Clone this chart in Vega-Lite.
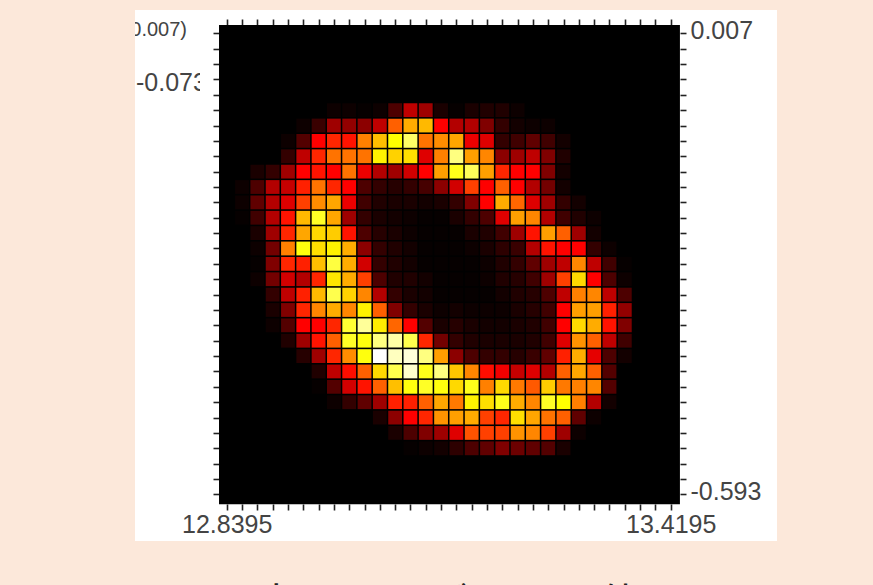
{"$schema":"https://vega.github.io/schema/vega-lite/v6.json","width":642,"height":531,"autosize":{"type":"none"},"padding":{"left":135,"top":10,"right":96,"bottom":44},"background":"#fce8da","view":{"fill":"#ffffff","stroke":null},"title":{"text":"高エネルギーの天体","orient":"bottom","anchor":"middle","offset":45,"dx":-7.5,"font":"Noto Sans CJK JP","fontSize":43,"fontWeight":"normal","color":"#222222"},"config":{"font":"Liberation Sans"},"datasets":{"cells":[
{"i":1,"j":10,"v":2},{"i":1,"j":11,"v":2},{"i":1,"j":12,"v":1},
{"i":2,"j":9,"v":4},{"i":2,"j":10,"v":12},{"i":2,"j":11,"v":15},{"i":2,"j":12,"v":10},{"i":2,"j":13,"v":4},{"i":2,"j":14,"v":2},{"i":2,"j":15,"v":1},{"i":2,"j":16,"v":2},
{"i":3,"j":9,"v":8},{"i":3,"j":10,"v":28},{"i":3,"j":11,"v":28},{"i":3,"j":12,"v":28},{"i":3,"j":13,"v":25},{"i":3,"j":14,"v":18},{"i":3,"j":15,"v":20},{"i":3,"j":16,"v":18},{"i":3,"j":17,"v":8},{"i":3,"j":18,"v":4},{"i":3,"j":19,"v":2},
{"i":4,"j":7,"v":2},{"i":4,"j":8,"v":8},{"i":4,"j":9,"v":25},{"i":4,"j":10,"v":31},{"i":4,"j":11,"v":35},{"i":4,"j":12,"v":43},{"i":4,"j":13,"v":46},{"i":4,"j":14,"v":60},{"i":4,"j":15,"v":46},{"i":4,"j":16,"v":33},{"i":4,"j":17,"v":30},{"i":4,"j":18,"v":20},{"i":4,"j":19,"v":13},{"i":4,"j":20,"v":5},
{"i":5,"j":6,"v":2},{"i":5,"j":7,"v":13},{"i":5,"j":8,"v":30},{"i":5,"j":9,"v":40},{"i":5,"j":10,"v":45},{"i":5,"j":11,"v":50},{"i":5,"j":12,"v":69},{"i":5,"j":13,"v":66},{"i":5,"j":14,"v":81},{"i":5,"j":15,"v":45},{"i":5,"j":16,"v":28},{"i":5,"j":17,"v":45},{"i":5,"j":18,"v":46},{"i":5,"j":19,"v":40},{"i":5,"j":20,"v":25},{"i":5,"j":21,"v":6},
{"i":6,"j":6,"v":9},{"i":6,"j":7,"v":40},{"i":6,"j":8,"v":46},{"i":6,"j":9,"v":43},{"i":6,"j":10,"v":58},{"i":6,"j":11,"v":62},{"i":6,"j":12,"v":83},{"i":6,"j":13,"v":74},{"i":6,"j":14,"v":75},{"i":6,"j":15,"v":70},{"i":6,"j":16,"v":46},{"i":6,"j":17,"v":69},{"i":6,"j":18,"v":61},{"i":6,"j":19,"v":40},{"i":6,"j":20,"v":43},{"i":6,"j":21,"v":25},{"i":6,"j":22,"v":5},{"i":6,"j":23,"v":1},
{"i":7,"j":5,"v":2},{"i":7,"j":6,"v":25},{"i":7,"j":7,"v":46},{"i":7,"j":8,"v":58},{"i":7,"j":9,"v":40},{"i":7,"j":10,"v":46},{"i":7,"j":11,"v":66},{"i":7,"j":12,"v":66},{"i":7,"j":13,"v":72},{"i":7,"j":14,"v":78},{"i":7,"j":15,"v":85},{"i":7,"j":16,"v":76},{"i":7,"j":17,"v":86},{"i":7,"j":18,"v":67},{"i":7,"j":19,"v":46},{"i":7,"j":20,"v":55},{"i":7,"j":21,"v":46},{"i":7,"j":22,"v":30},{"i":7,"j":23,"v":13},{"i":7,"j":24,"v":2},
{"i":8,"j":5,"v":2},{"i":8,"j":6,"v":23},{"i":8,"j":7,"v":43},{"i":8,"j":8,"v":58},{"i":8,"j":9,"v":58},{"i":8,"j":10,"v":40},{"i":8,"j":11,"v":37},{"i":8,"j":12,"v":25},{"i":8,"j":13,"v":43},{"i":8,"j":14,"v":67},{"i":8,"j":15,"v":67},{"i":8,"j":16,"v":67},{"i":8,"j":17,"v":73},{"i":8,"j":18,"v":61},{"i":8,"j":19,"v":84},{"i":8,"j":20,"v":83},{"i":8,"j":21,"v":62},{"i":8,"j":22,"v":42},{"i":8,"j":23,"v":33},{"i":8,"j":24,"v":8},
{"i":9,"j":5,"v":1},{"i":9,"j":6,"v":22},{"i":9,"j":7,"v":60},{"i":9,"j":8,"v":58},{"i":9,"j":9,"v":37},{"i":9,"j":10,"v":12},{"i":9,"j":11,"v":10},{"i":9,"j":12,"v":8},{"i":9,"j":13,"v":12},{"i":9,"j":14,"v":22},{"i":9,"j":15,"v":33},{"i":9,"j":16,"v":50},{"i":9,"j":17,"v":61},{"i":9,"j":18,"v":78},{"i":9,"j":19,"v":92},{"i":9,"j":20,"v":81},{"i":9,"j":21,"v":81},{"i":9,"j":22,"v":55},{"i":9,"j":23,"v":43},{"i":9,"j":24,"v":15},
{"i":10,"j":5,"v":2},{"i":10,"j":6,"v":30},{"i":10,"j":7,"v":70},{"i":10,"j":8,"v":78},{"i":10,"j":9,"v":28},{"i":10,"j":10,"v":8},{"i":10,"j":11,"v":5},{"i":10,"j":12,"v":4},{"i":10,"j":13,"v":6},{"i":10,"j":14,"v":8},{"i":10,"j":15,"v":8},{"i":10,"j":16,"v":12},{"i":10,"j":17,"v":28},{"i":10,"j":18,"v":55},{"i":10,"j":19,"v":77},{"i":10,"j":20,"v":90},{"i":10,"j":21,"v":100},{"i":10,"j":22,"v":74},{"i":10,"j":23,"v":55},{"i":10,"j":24,"v":25},{"i":10,"j":25,"v":4},
{"i":11,"j":5,"v":12},{"i":11,"j":6,"v":55},{"i":11,"j":7,"v":80},{"i":11,"j":8,"v":73},{"i":11,"j":9,"v":25},{"i":11,"j":10,"v":6},{"i":11,"j":11,"v":4},{"i":11,"j":12,"v":3},{"i":11,"j":13,"v":4},{"i":11,"j":14,"v":5},{"i":11,"j":15,"v":5},{"i":11,"j":16,"v":5},{"i":11,"j":17,"v":8},{"i":11,"j":18,"v":20},{"i":11,"j":19,"v":56},{"i":11,"j":20,"v":93},{"i":11,"j":21,"v":95},{"i":11,"j":22,"v":86},{"i":11,"j":23,"v":70},{"i":11,"j":24,"v":45},{"i":11,"j":25,"v":22},{"i":11,"j":26,"v":4},
{"i":12,"j":5,"v":30},{"i":12,"j":6,"v":67},{"i":12,"j":7,"v":88},{"i":12,"j":8,"v":75},{"i":12,"j":9,"v":33},{"i":12,"j":10,"v":8},{"i":12,"j":11,"v":4},{"i":12,"j":12,"v":2},{"i":12,"j":13,"v":2},{"i":12,"j":14,"v":3},{"i":12,"j":15,"v":3},{"i":12,"j":16,"v":5},{"i":12,"j":17,"v":4},{"i":12,"j":18,"v":8},{"i":12,"j":19,"v":40},{"i":12,"j":20,"v":86},{"i":12,"j":21,"v":97},{"i":12,"j":22,"v":96},{"i":12,"j":23,"v":81},{"i":12,"j":24,"v":45},{"i":12,"j":25,"v":40},{"i":12,"j":26,"v":12},{"i":12,"j":27,"v":1},
{"i":13,"j":5,"v":25},{"i":13,"j":6,"v":69},{"i":13,"j":7,"v":58},{"i":13,"j":8,"v":35},{"i":13,"j":9,"v":40},{"i":13,"j":10,"v":11},{"i":13,"j":11,"v":3},{"i":13,"j":12,"v":1},{"i":13,"j":13,"v":1},{"i":13,"j":14,"v":1},{"i":13,"j":15,"v":1},{"i":13,"j":16,"v":3},{"i":13,"j":17,"v":3},{"i":13,"j":18,"v":4},{"i":13,"j":19,"v":13},{"i":13,"j":20,"v":46},{"i":13,"j":21,"v":90},{"i":13,"j":22,"v":82},{"i":13,"j":23,"v":83},{"i":13,"j":24,"v":55},{"i":13,"j":25,"v":46},{"i":13,"j":26,"v":20},{"i":13,"j":27,"v":2},
{"i":14,"j":5,"v":4},{"i":14,"j":6,"v":40},{"i":14,"j":7,"v":62},{"i":14,"j":8,"v":60},{"i":14,"j":9,"v":65},{"i":14,"j":10,"v":22},{"i":14,"j":11,"v":4},{"i":14,"j":12,"v":1},{"i":14,"j":13,"v":1},{"i":14,"j":14,"v":1},{"i":14,"j":15,"v":1},{"i":14,"j":16,"v":1},{"i":14,"j":17,"v":1},{"i":14,"j":18,"v":2},{"i":14,"j":19,"v":4},{"i":14,"j":20,"v":18},{"i":14,"j":21,"v":65},{"i":14,"j":22,"v":90},{"i":14,"j":23,"v":81},{"i":14,"j":24,"v":66},{"i":14,"j":25,"v":63},{"i":14,"j":26,"v":25},{"i":14,"j":27,"v":3},
{"i":15,"j":5,"v":1},{"i":15,"j":6,"v":28},{"i":15,"j":7,"v":66},{"i":15,"j":8,"v":90},{"i":15,"j":9,"v":82},{"i":15,"j":10,"v":33},{"i":15,"j":11,"v":8},{"i":15,"j":12,"v":4},{"i":15,"j":13,"v":1},{"i":15,"j":14,"v":1},{"i":15,"j":15,"v":1},{"i":15,"j":16,"v":1},{"i":15,"j":17,"v":1},{"i":15,"j":18,"v":3},{"i":15,"j":19,"v":6},{"i":15,"j":20,"v":8},{"i":15,"j":21,"v":22},{"i":15,"j":22,"v":71},{"i":15,"j":23,"v":74},{"i":15,"j":24,"v":59},{"i":15,"j":25,"v":65},{"i":15,"j":26,"v":35},{"i":15,"j":27,"v":7},
{"i":16,"j":5,"v":4},{"i":16,"j":6,"v":28},{"i":16,"j":7,"v":37},{"i":16,"j":8,"v":65},{"i":16,"j":9,"v":87},{"i":16,"j":10,"v":50},{"i":16,"j":11,"v":20},{"i":16,"j":12,"v":8},{"i":16,"j":13,"v":4},{"i":16,"j":14,"v":2},{"i":16,"j":15,"v":1},{"i":16,"j":16,"v":1},{"i":16,"j":17,"v":1},{"i":16,"j":18,"v":2},{"i":16,"j":19,"v":4},{"i":16,"j":20,"v":5},{"i":16,"j":21,"v":12},{"i":16,"j":22,"v":61},{"i":16,"j":23,"v":82},{"i":16,"j":24,"v":78},{"i":16,"j":25,"v":67},{"i":16,"j":26,"v":53},{"i":16,"j":27,"v":12},
{"i":17,"j":5,"v":5},{"i":17,"j":6,"v":20},{"i":17,"j":7,"v":35},{"i":17,"j":8,"v":61},{"i":17,"j":9,"v":65},{"i":17,"j":10,"v":40},{"i":17,"j":11,"v":40},{"i":17,"j":12,"v":12},{"i":17,"j":13,"v":5},{"i":17,"j":14,"v":4},{"i":17,"j":15,"v":2},{"i":17,"j":16,"v":2},{"i":17,"j":17,"v":1},{"i":17,"j":18,"v":2},{"i":17,"j":19,"v":3},{"i":17,"j":20,"v":4},{"i":17,"j":21,"v":8},{"i":17,"j":22,"v":42},{"i":17,"j":23,"v":60},{"i":17,"j":24,"v":75},{"i":17,"j":25,"v":50},{"i":17,"j":26,"v":50},{"i":17,"j":27,"v":15},
{"i":18,"j":5,"v":5},{"i":18,"j":6,"v":8},{"i":18,"j":7,"v":8},{"i":18,"j":8,"v":22},{"i":18,"j":9,"v":46},{"i":18,"j":10,"v":55},{"i":18,"j":11,"v":67},{"i":18,"j":12,"v":35},{"i":18,"j":13,"v":10},{"i":18,"j":14,"v":7},{"i":18,"j":15,"v":5},{"i":18,"j":16,"v":5},{"i":18,"j":17,"v":3},{"i":18,"j":18,"v":2},{"i":18,"j":19,"v":3},{"i":18,"j":20,"v":4},{"i":18,"j":21,"v":8},{"i":18,"j":22,"v":38},{"i":18,"j":23,"v":74},{"i":18,"j":24,"v":82},{"i":18,"j":25,"v":46},{"i":18,"j":26,"v":50},{"i":18,"j":27,"v":20},
{"i":19,"j":5,"v":2},{"i":19,"j":6,"v":3},{"i":19,"j":7,"v":10},{"i":19,"j":8,"v":25},{"i":19,"j":9,"v":40},{"i":19,"j":10,"v":40},{"i":19,"j":11,"v":56},{"i":19,"j":12,"v":65},{"i":19,"j":13,"v":25},{"i":19,"j":14,"v":9},{"i":19,"j":15,"v":8},{"i":19,"j":16,"v":6},{"i":19,"j":17,"v":5},{"i":19,"j":18,"v":4},{"i":19,"j":19,"v":4},{"i":19,"j":20,"v":4},{"i":19,"j":21,"v":6},{"i":19,"j":22,"v":31},{"i":19,"j":23,"v":59},{"i":19,"j":24,"v":67},{"i":19,"j":25,"v":75},{"i":19,"j":26,"v":63},{"i":19,"j":27,"v":17},
{"i":20,"j":6,"v":2},{"i":20,"j":7,"v":15},{"i":20,"j":8,"v":30},{"i":20,"j":9,"v":40},{"i":20,"j":10,"v":28},{"i":20,"j":11,"v":35},{"i":20,"j":12,"v":61},{"i":20,"j":13,"v":43},{"i":20,"j":14,"v":28},{"i":20,"j":15,"v":15},{"i":20,"j":16,"v":10},{"i":20,"j":17,"v":6},{"i":20,"j":18,"v":6},{"i":20,"j":19,"v":5},{"i":20,"j":20,"v":5},{"i":20,"j":21,"v":9},{"i":20,"j":22,"v":35},{"i":20,"j":23,"v":54},{"i":20,"j":24,"v":61},{"i":20,"j":25,"v":66},{"i":20,"j":26,"v":61},{"i":20,"j":27,"v":15},
{"i":21,"j":6,"v":2},{"i":21,"j":7,"v":10},{"i":21,"j":8,"v":20},{"i":21,"j":9,"v":20},{"i":21,"j":10,"v":18},{"i":21,"j":11,"v":25},{"i":21,"j":12,"v":28},{"i":21,"j":13,"v":65},{"i":21,"j":14,"v":43},{"i":21,"j":15,"v":25},{"i":21,"j":16,"v":25},{"i":21,"j":17,"v":12},{"i":21,"j":18,"v":10},{"i":21,"j":19,"v":10},{"i":21,"j":20,"v":10},{"i":21,"j":21,"v":15},{"i":21,"j":22,"v":28},{"i":21,"j":23,"v":72},{"i":21,"j":24,"v":83},{"i":21,"j":25,"v":58},{"i":21,"j":26,"v":50},{"i":21,"j":27,"v":13},
{"i":22,"j":7,"v":3},{"i":22,"j":8,"v":5},{"i":22,"j":9,"v":3},{"i":22,"j":10,"v":3},{"i":22,"j":11,"v":8},{"i":22,"j":12,"v":10},{"i":22,"j":13,"v":55},{"i":22,"j":14,"v":40},{"i":22,"j":15,"v":30},{"i":22,"j":16,"v":50},{"i":22,"j":17,"v":30},{"i":22,"j":18,"v":40},{"i":22,"j":19,"v":40},{"i":22,"j":20,"v":35},{"i":22,"j":21,"v":45},{"i":22,"j":22,"v":55},{"i":22,"j":23,"v":59},{"i":22,"j":24,"v":80},{"i":22,"j":25,"v":55},{"i":22,"j":26,"v":25},{"i":22,"j":27,"v":4},
{"i":23,"j":11,"v":3},{"i":23,"j":12,"v":5},{"i":23,"j":13,"v":25},{"i":23,"j":14,"v":40},{"i":23,"j":15,"v":61},{"i":23,"j":16,"v":74},{"i":23,"j":17,"v":60},{"i":23,"j":18,"v":65},{"i":23,"j":19,"v":74},{"i":23,"j":20,"v":63},{"i":23,"j":21,"v":67},{"i":23,"j":22,"v":66},{"i":23,"j":23,"v":60},{"i":23,"j":24,"v":60},{"i":23,"j":25,"v":15},{"i":23,"j":26,"v":2},
{"i":24,"j":12,"v":2},{"i":24,"j":13,"v":3},{"i":24,"j":14,"v":8},{"i":24,"j":15,"v":30},{"i":24,"j":16,"v":40},{"i":24,"j":17,"v":61},{"i":24,"j":18,"v":65},{"i":24,"j":19,"v":67},{"i":24,"j":20,"v":55},{"i":24,"j":21,"v":36},{"i":24,"j":22,"v":55},{"i":24,"j":23,"v":61},{"i":24,"j":24,"v":28},{"i":24,"j":25,"v":2},
{"i":25,"j":14,"v":2},{"i":25,"j":15,"v":10},{"i":25,"j":16,"v":12},{"i":25,"j":17,"v":30},{"i":25,"j":18,"v":45},{"i":25,"j":19,"v":43},{"i":25,"j":20,"v":30},{"i":25,"j":21,"v":12},{"i":25,"j":22,"v":13},{"i":25,"j":23,"v":13},{"i":25,"j":24,"v":3},
{"i":26,"j":15,"v":1},{"i":26,"j":16,"v":2},{"i":26,"j":17,"v":12},{"i":26,"j":18,"v":23},{"i":26,"j":19,"v":20},{"i":26,"j":20,"v":10},{"i":26,"j":21,"v":3}
]},"resolve":{"axis":{"x":"independent","y":"independent"}},"layer":[
{"data":{"values":[{"i0":-0.503,"i1":29.6,"j0":-0.54,"j1":30.64}]},"mark":{"type":"rect","fill":"#000000"},"encoding":{"x":{"field":"i0","type":"quantitative","scale":{"domain":[-5.99,35.94],"nice":false,"zero":false},"axis":{"orient":"bottom","offset":-37,"values":[0,1,2,3,4,5,6,7,8,9,10,11,12,13,14,15,16,17,18,19,20,21,22,23,24,25,26,27,28,29],"labelExpr":"datum.value==0?'12.8395':datum.value==29?'13.4195':''","labelOverlap":false,"labelFlush":false,"labelBound":false,"grid":false,"domain":false,"title":null,"tickSize":6,"tickWidth":1.6,"tickColor":"#222222","labelFontSize":25,"labelColor":"#444444","labelPadding":2,"labelFont":"Liberation Sans"}},"x2":{"field":"i1"},"y":{"field":"j0","type":"quantitative","scale":{"domain":[33.03,-1.516],"nice":false,"zero":false},"axis":{"orient":"left","offset":-84,"values":[0,1,2,3,4,5,6,7,8,9,10,11,12,13,14,15,16,17,18,19,20,21,22,23,24,25,26,27,28,29,30],"labels":false,"grid":false,"domain":false,"title":null,"tickSize":6,"tickWidth":1.6,"tickColor":"#222222"}},"y2":{"field":"j1"}}},
{"data":{"values":[{"i0":-0.503,"i1":29.6,"j0":-0.54,"j1":30.64}]},"mark":{"type":"rect","opacity":0},"encoding":{"x":{"field":"i0","type":"quantitative","axis":{"orient":"top","offset":-15,"values":[0,1,2,3,4,5,6,7,8,9,10,11,12,13,14,15,16,17,18,19,20,21,22,23,24,25,26,27,28,29],"labels":false,"grid":false,"domain":false,"title":null,"tickSize":6,"tickWidth":1.6,"tickColor":"#222222"}},"x2":{"field":"i1"},"y":{"field":"j0","type":"quantitative","axis":{"orient":"right","offset":-97,"values":[0,1,2,3,4,5,6,7,8,9,10,11,12,13,14,15,16,17,18,19,20,21,22,23,24,25,26,27,28,29,30],"labelExpr":"datum.value==0?'0.007':datum.value==30?'-0.593':''","labelOverlap":false,"labelFlush":false,"labelBound":false,"labelOffset":-3,"grid":false,"domain":false,"title":null,"tickSize":6,"tickWidth":1.6,"tickColor":"#222222","labelFontSize":25,"labelColor":"#444444","labelPadding":4,"labelFont":"Liberation Sans"}},"y2":{"field":"j1"}}},
{"data":{"name":"cells"},"mark":{"type":"rect","width":13.8,"height":13.8},"encoding":{"x":{"field":"i","type":"quantitative","axis":null},"y":{"field":"j","type":"quantitative","axis":null},"color":{"field":"v","type":"quantitative","legend":null,"scale":{"domain":[0,40,80,100],"range":["#000000","#ff0000","#ffff00","#ffffff"],"interpolate":"rgb"}}}},
{"data":{"values":[{"i":-5.924,"j":3.23,"t":"-0.073"}]},"mark":{"type":"text","align":"left","baseline":"middle","fontSize":25,"color":"#444444","font":"Liberation Sans"},"encoding":{"x":{"field":"i","type":"quantitative","axis":null},"y":{"field":"j","type":"quantitative","axis":null},"text":{"field":"t"}}},
{"data":{"values":[{"i":-2.593,"j":-0.215,"t":"(0.007)"}]},"mark":{"type":"text","align":"right","baseline":"middle","fontSize":20,"color":"#444444","font":"Liberation Sans","clip":true},"encoding":{"x":{"field":"i","type":"quantitative","axis":null},"y":{"field":"j","type":"quantitative","axis":null},"text":{"field":"t"}}},
{"data":{"values":[{"i0":-1.744,"i1":-1.025,"j0":2.39,"j1":4.08}]},"mark":{"type":"rect","fill":"#ffffff"},"encoding":{"x":{"field":"i0","type":"quantitative","axis":null},"x2":{"field":"i1"},"y":{"field":"j0","type":"quantitative","axis":null},"y2":{"field":"j1"}}}
]}
